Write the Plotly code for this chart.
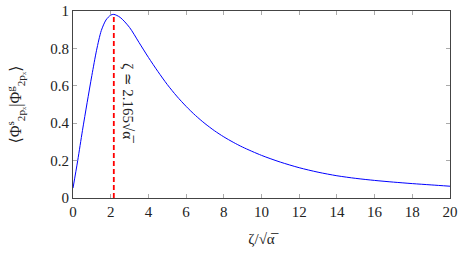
import plotly.graph_objects as go

# data
zeta = [0, 0.25, 0.5, 0.75, 1.0, 1.25, 1.5, 1.75, 2.0, 2.165, 2.5, 3.0, 3.5, 4.0, 4.5,
        5.0, 5.5, 6.0, 6.5, 7.0, 7.5, 8.0, 8.5, 9.0, 10, 11, 12, 13, 14, 15, 16, 17, 18, 19, 20]
overlap = [0.053, 0.20, 0.36, 0.51, 0.655, 0.79, 0.895, 0.952, 0.978, 0.982, 0.966, 0.912, 0.832,
           0.752, 0.677, 0.607, 0.545, 0.49, 0.441, 0.398, 0.36, 0.327, 0.298, 0.272, 0.228,
           0.192, 0.162, 0.138, 0.119, 0.105, 0.094, 0.085, 0.077, 0.07, 0.063]
marker_x = [2.165, 2.165]
marker_y = [0, 0.982]
annot_x = 2.95
annot_y = 0.51
annot_text = "ζ ≃ 2.165√α̅"

x_ticks = [0, 2, 4, 6, 8, 10, 12, 14, 16, 18, 20]
y_ticks = [0, 0.2, 0.4, 0.6, 0.8, 1]
y_ticklabels = ["0", "0.2", "0.4", "0.6", "0.8", "1"]

TXT = "#222"
FONT = "Liberation Serif, DejaVu Serif, serif"

fig = go.Figure()
fig.add_trace(go.Scatter(x=zeta, y=overlap, mode="lines", line=dict(color="#0000ff", width=1, shape="spline", smoothing=0.8),
                         showlegend=False, hoverinfo="skip"))
fig.add_trace(go.Scatter(x=marker_x, y=marker_y, mode="lines", line=dict(color="#ff0000", width=1.8, dash="5px,3px"),
                         showlegend=False, hoverinfo="skip"))

fig.add_annotation(x=annot_x, y=annot_y, text=annot_text, textangle=90, showarrow=False,
                   font=dict(family=FONT, size=15, color=TXT))

axis_common = dict(showgrid=False, zeroline=False, showline=True, linecolor="#444", linewidth=1,
                   mirror="ticks", ticks="inside", ticklen=4, tickcolor="#aaa", tickwidth=1,
                   automargin=False, tickfont=dict(family=FONT, size=15, color=TXT))

fig.update_xaxes(range=[0, 20], tickvals=x_ticks,
                 title=dict(text="ζ/√α̅", font=dict(family=FONT, size=15, color=TXT), standoff=14),
                 **axis_common)
fig.update_yaxes(range=[0, 1], tickvals=y_ticks, ticktext=y_ticklabels,
                 title=dict(text="⟨Φ<sup>s</sup><sub>2pₓ</sub>|Φ<sup>g</sup><sub>2pₓ</sub>⟩",
                            font=dict(family=FONT, size=16, color=TXT), standoff=24),
                 **axis_common)

fig.update_layout(width=464, height=253, margin=dict(l=73, r=14, t=11, b=55),
                  font=dict(family=FONT, color=TXT),
                  plot_bgcolor="white", paper_bgcolor="white")

fig.write_html("out.html", config={"displayModeBar": False},
               post_script="document.body.style.margin='0px';")
